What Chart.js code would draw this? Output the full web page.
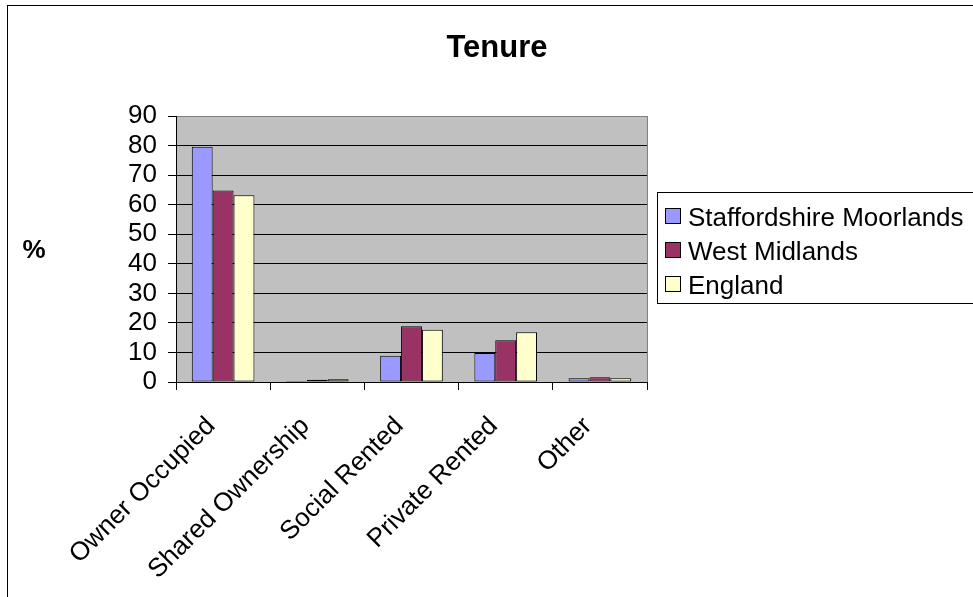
<!DOCTYPE html>
<html>
<head>
<meta charset="utf-8">
<title>Tenure</title>
<script src="https://cdn.jsdelivr.net/npm/chart.js@4/dist/chart.umd.min.js"></script>
<style>
  html, body { margin: 0; padding: 0; background: #fff; overflow: hidden; }
  #wrap { position: absolute; left: 0; top: 0; width: 973px; height: 597px; }
</style>
</head>
<body>
<div id="wrap"><canvas id="chart" width="973" height="597"></canvas></div>
<script>
// Housing tenure, percentage of households
const categories = ['Owner Occupied', 'Shared Ownership', 'Social Rented', 'Private Rented', 'Other'];
const seriesNames = ['Staffordshire Moorlands', 'West Midlands', 'England'];
const staffordshireMoorlands = [79.6, 0.3, 8.9, 9.8, 1.3];
const westMidlands = [64.8, 0.8, 18.9, 14.1, 1.6];
const england = [63.2, 0.9, 17.7, 16.8, 1.3];
const yTicks = [0, 10, 20, 30, 40, 50, 60, 70, 80, 90];
const chartTitle = 'Tenure';
const yAxisLabel = '%';

const FONT = "'Liberation Sans', Arial, sans-serif";
const colours = ['#9999FF', '#993366', '#FFFFCC'];

// Grey plot area with its frame, outer chart frame, title, axis label and legend
const decorations = {
  id: 'decorations',
  beforeDraw(chart) {
    const { ctx, chartArea: a } = chart;
    ctx.save();
    ctx.fillStyle = '#fff';
    ctx.fillRect(0, 0, chart.width, chart.height);
    ctx.fillStyle = '#C0C0C0';
    ctx.fillRect(a.left, a.top, a.right - a.left, a.bottom - a.top);
    ctx.strokeStyle = '#808080';
    ctx.lineWidth = 1;
    ctx.strokeRect(Math.round(a.left) + 0.5, Math.round(a.top) + 0.5,
                   Math.round(a.right - a.left), Math.round(a.bottom - a.top));
    ctx.restore();
  },
  afterDraw(chart) {
    const { ctx } = chart;
    ctx.save();
    // outer frame
    ctx.strokeStyle = '#000';
    ctx.lineWidth = 1;
    ctx.strokeRect(7.5, 5.5, 1400, 1400);

    // title
    ctx.fillStyle = '#000';
    ctx.font = 'bold 31px ' + FONT;
    ctx.textAlign = 'center';
    ctx.textBaseline = 'alphabetic';
    ctx.fillText(chartTitle, 497, 57);

    // value axis label
    ctx.font = 'bold 26px ' + FONT;
    ctx.fillText(yAxisLabel, 34, 258);

    // legend
    const lx = 657, ly = 192, lh = 111;
    ctx.strokeRect(lx + 0.5, ly + 0.5, 600, lh);
    ctx.font = '26px ' + FONT;
    ctx.textAlign = 'left';
    const baselines = [226, 260, 294];
    chart.data.datasets.forEach((ds, i) => {
      const by = baselines[i];
      ctx.fillStyle = ds.backgroundColor;
      ctx.fillRect(665, by - 18, 16, 16);
      ctx.strokeStyle = '#000';
      ctx.strokeRect(665.5, by - 17.5, 15, 15);
      ctx.fillStyle = '#000';
      ctx.fillText(ds.label, 688, by);
    });
    ctx.restore();
  }
};

const datasets = [staffordshireMoorlands, westMidlands, england].map((values, i) => ({
  label: seriesNames[i],
  data: values,
  backgroundColor: colours[i],
  borderColor: '#000',
  borderWidth: 1,
  borderSkipped: false,
  categoryPercentage: 0.665,
  barPercentage: 1.0
}));

new Chart(document.getElementById('chart'), {
  type: 'bar',
  data: { labels: categories, datasets },
  plugins: [decorations],
  options: {
    responsive: false,
    animation: false,
    devicePixelRatio: 1,
    layout: { padding: { left: 0, top: 116, right: 326, bottom: 0 } },
    plugins: {
      legend: { display: false },
      title: { display: false },
      tooltip: { enabled: false }
    },
    scales: {
      x: {
        offset: true,
        grid: {
          display: true,
          offset: true,
          drawOnChartArea: false,
          drawTicks: true,
          tickLength: 8,
          tickColor: '#000'
        },
        border: { display: true, color: '#000', width: 1 },
        ticks: {
          autoSkip: false,
          maxRotation: 45,
          minRotation: 45,
          padding: 21,
          labelOffset: -12,
          color: '#000',
          font: { family: FONT, size: 26 }
        },
        afterFit(scale) { scale.height = 215; }
      },
      y: {
        min: yTicks[0],
        max: yTicks[yTicks.length - 1],
        afterBuildTicks(scale) { scale.ticks = yTicks.map(v => ({ value: v })); },
        grid: {
          color: ctx => (ctx.tick && ctx.tick.value === 90 ? '#808080' : '#000'),
          tickColor: '#000',
          tickLength: 8,
          lineWidth: 1
        },
        border: { display: true, color: '#000', width: 1 },
        ticks: {
          autoSkip: false,
          padding: 11,
          color: '#000',
          font: { family: FONT, size: 26, lineHeight: 1 }
        },
        afterFit(scale) { scale.width = 176; }
      }
    }
  }
});
</script>
</body>
</html>
